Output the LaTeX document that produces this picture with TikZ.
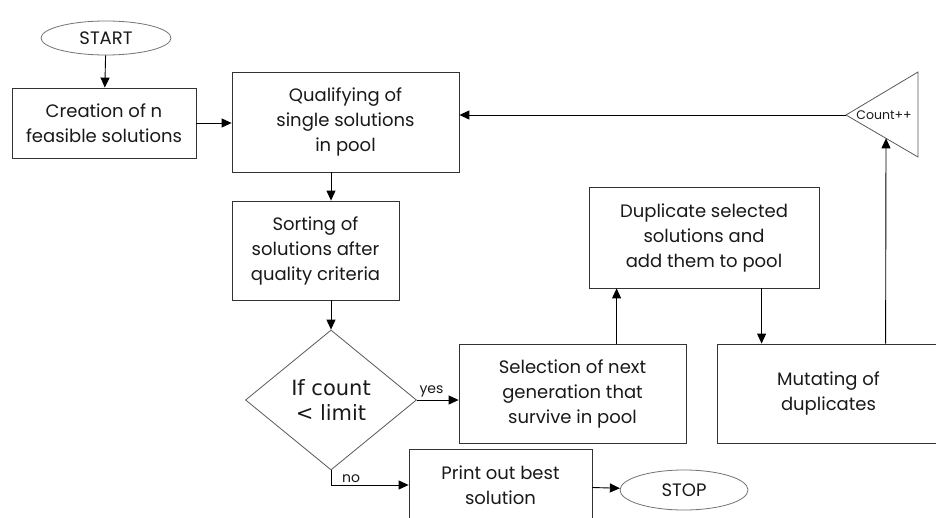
\documentclass[tikz,border=0pt]{standalone}
\usepackage{fontspec}
\setmainfont{Poppins}
\newfontfamily\decfont{DejaVu Sans}
\usetikzlibrary{shapes.geometric,arrows.meta,calc}
\begin{document}
\begin{tikzpicture}[x=1pt,y=-1pt,
  every node/.style={font=\fontsize{18}{25}\selectfont, align=center, text=black!90},
  box/.style={draw=black!80, line width=0.8pt, rectangle, inner sep=0pt},
  term/.style={draw=black!55, ellipse, line width=0.8pt, inner sep=0pt},
  flow/.style={draw=black, line width=0.9pt, -{Triangle[length=10pt,width=9pt]}},
  tag/.style={font=\fontsize{14}{16}\selectfont, inner sep=2pt}
 ]
\useasboundingbox (0,0) rectangle (936,518);
\fill[white] (0,0) rectangle (936,518);

% terminals
\node[term, minimum width=130pt, minimum height=34pt] (start) at (106,38) {START};
\node[term, minimum width=128pt, minimum height=40pt] (stop) at (684,490) {STOP};

% process boxes
\node[box, minimum width=184pt, minimum height=70pt] (create) at (104,123) {Creation of n\\feasible solutions};
\node[box, minimum width=227pt, minimum height=100pt] (qual) at (345.5,122) {Qualifying of\\single solutions\\in pool};
\node[box, minimum width=167pt, minimum height=99pt] (sort) at (315.5,250.5) {Sorting of\\solutions after\\quality criteria};
\node[box, minimum width=227pt, minimum height=99pt] (sel) at (572.5,393.5) {Selection of next\\generation that\\survive in pool};
\node[box, minimum width=230pt, minimum height=101pt] (dup) at (704,237.5) {Duplicate selected\\solutions and\\add them to pool};
\node[box, minimum width=223pt, minimum height=99pt] (mut) at (828.5,393.5) {Mutating of\\duplicates};
\node[box, minimum width=183pt, minimum height=72pt] (prt) at (500.5,485) {Print out best\\solution};

% decision
\node[diamond, draw=black!65, line width=0.8pt, inner sep=0pt,
      minimum width=171pt, minimum height=140pt,
      font=\decfont\fontsize{21}{25}\selectfont] (dec) at (331,400) {If count\\< limit};

% counter triangle
\coordinate (tA) at (846,115);
\coordinate (tT) at (918,72);
\coordinate (tB) at (918,157);
\draw[draw=black!65, line width=0.8pt] (tA) -- (tT) -- (tB) -- cycle;
\node[font=\fontsize{12.5}{14}\selectfont, inner sep=0pt] (cnt) at (884,115) {Count++};

% connectors
\draw[flow] (start) -- (create);
\draw[flow] (create) -- (create -| qual.west);
\draw[flow] (qual.south -| dec) -- (sort.north -| dec);
\draw[flow] (sort.south -| dec) -- (dec.north);
\draw[flow] (dec.east) -- (dec.east -| sel.west) node[tag, above, pos=0.35] {yes};
\draw[flow] (dec.south) |- (prt.west) node[tag, above, pos=0.63] {no};
\draw[flow] (prt) -- (stop);
\draw[flow] ([xshift=28pt]sel.north -| dup.west) -- ([xshift=28pt]dup.south west);
\draw[flow] ([xshift=45pt]mut.north west |- dup.south) -- ([xshift=45pt]mut.north west);
\draw[flow] ([xshift=169pt]mut.north west) -- ($(tA)!0.5556!(tB)$);
\draw[flow] (tA) -- (tA -| qual.east);
\end{tikzpicture}
\end{document}
